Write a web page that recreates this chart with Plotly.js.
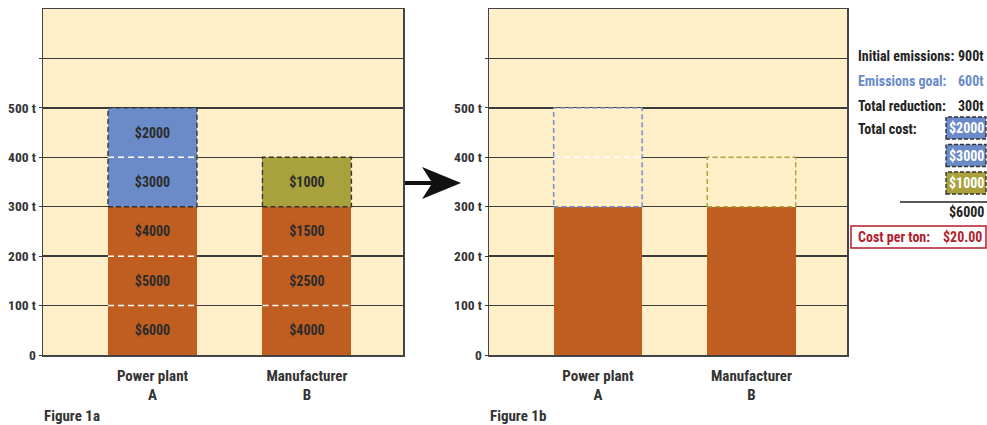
<!DOCTYPE html>
<html>
<head>
<meta charset="utf-8">
<script src="https://cdn.plot.ly/plotly-3.0.1.min.js"></script>
<style>html,body{margin:0;padding:0;background:#fff;}#chart{width:987px;height:425px;}</style>
</head>
<body>
<div id="chart"></div>
<script>
// ---------- DATA ----------
const categories = ['Power plant<br>A', 'Manufacturer<br>B'];
const initialEmissions = [500, 400];          // tonnes
const targetEmissions = [300, 300];           // tonnes after reduction
const segmentSize = 100;                      // tonnes per cost block
const costsA = [6000, 5000, 4000, 3000, 2000]; // cost of each 100 t block, bottom to top
const costsB = [4000, 2500, 1500, 1000];
const yTickVals = [0, 100, 200, 300, 400, 500, 600];
const yTickText = ['0', '100 t', '200 t', '300 t', '400 t', '500 t', ''];
const panelLabels = ['Figure 1a', 'Figure 1b'];

// ---------- STYLE ----------
const FONT = '"Roboto Condensed", "Open Sans Condensed", sans-serif';
const CREAM = '#FEEFC9', ORANGE = '#C05E22', BLUE = '#6A8BC7', OLIVE = '#A8A13C';
const DARK = '#2b2b2b', GRID = '#3a3a3a', RED = '#B01E2E';
const reducedColors = [BLUE, OLIVE];
const BW = 0.576;
const W = 987, H = 425;
const px = x => x / W, py = y => 1 - y / H;

const costs = [costsA, costsB];
const nLevels = Math.max(costsA.length, costsB.length);
const traces = [];

// Figure 1a: stacked cost blocks
for (let k = 0; k < nLevels; k++) {
  const y = [], text = [], colors = [];
  for (let i = 0; i < categories.length; i++) {
    const c = costs[i][k];
    y.push(c !== undefined ? segmentSize : 0);
    text.push(c !== undefined ? '$' + c : '');
    colors.push(k * segmentSize < targetEmissions[i] ? ORANGE : reducedColors[i]);
  }
  traces.push({
    type: 'bar', x: [0, 1], y: y, text: text, width: BW,
    xaxis: 'x', yaxis: 'y',
    marker: {color: colors, line: {width: 0}},
    textposition: 'inside', insidetextanchor: 'middle', textangle: 0,
    constraintext: 'none',
    textfont: {family: FONT, size: 14, color: DARK, weight: 'bold'},
    hoverinfo: 'skip'
  });
}

// Figure 1b: remaining emissions + empty reduced blocks
traces.push({
  type: 'bar', x: [0, 1], y: targetEmissions, width: BW, xaxis: 'x2', yaxis: 'y2',
  marker: {color: ORANGE, line: {width: 0}}, hoverinfo: 'skip'
});
traces.push({
  type: 'bar', x: [0, 1], y: initialEmissions.map((v, i) => v - targetEmissions[i]),
  width: BW, xaxis: 'x2', yaxis: 'y2',
  marker: {color: CREAM, line: {width: 0}}, hoverinfo: 'skip'
});

// dashed separators and outlines built from the data
function separators(axisX, axisY, onlyReduced) {
  const xs = [], ys = [];
  for (let i = 0; i < categories.length; i++) {
    for (let b = segmentSize; b < initialEmissions[i]; b += segmentSize) {
      if (b === targetEmissions[i]) continue;
      if (onlyReduced && b < targetEmissions[i]) continue;
      xs.push(i - BW / 2, i + BW / 2, null);
      ys.push(b, b, null);
    }
  }
  return {type: 'scatter', mode: 'lines', x: xs, y: ys, xaxis: axisX, yaxis: axisY,
    line: {color: '#ffffff', width: 1.5, dash: '6px,4px'},
    hoverinfo: 'skip', connectgaps: false};
}
traces.push(separators('x', 'y', false));
traces.push(separators('x2', 'y2', true));

for (let i = 0; i < categories.length; i++) {
  const bx = [i - BW / 2, i + BW / 2, i + BW / 2, i - BW / 2, i - BW / 2];
  const by = [targetEmissions[i], targetEmissions[i], initialEmissions[i], initialEmissions[i], targetEmissions[i]];
  traces.push({type: 'scatter', mode: 'lines', x: bx, y: by, xaxis: 'x', yaxis: 'y',
    line: {color: '#333333', width: 1.4, dash: '5px,3px'}, hoverinfo: 'skip'});
  traces.push({type: 'scatter', mode: 'lines', x: bx, y: by, xaxis: 'x2', yaxis: 'y2',
    line: {color: reducedColors[i], width: 1.4, dash: '5px,3px'}, hoverinfo: 'skip'});
}

// ---------- AXES ----------
const tickFont = {family: FONT, size: 13.5, color: '#333333', weight: 'bold'};
function xAxis(domain, anchor) {
  return {domain: domain, anchor: anchor, range: [-0.709, 1.622], tickvals: [0, 1], ticktext: categories,
    showgrid: false, zeroline: false, showline: true, mirror: true, linecolor: '#444444', linewidth: 1.5,
    ticks: '', tickfont: {family: FONT, size: 15, color: '#333333', weight: 'bold'},
    ticklabelstandoff: 6, fixedrange: true};
}
function yAxis(anchor) {
  return {domain: [py(355), py(9)], anchor: anchor, range: [0, 700], tickvals: yTickVals, ticktext: yTickText,
    showgrid: true, gridcolor: GRID, gridwidth: 1.3, zeroline: false, showline: true, mirror: true,
    linecolor: '#444444', linewidth: 1.5, ticks: 'outside', ticklen: 3, tickcolor: GRID,
    tickfont: tickFont, fixedrange: true};
}

// ---------- SUMMARY PANEL ----------
const totalInitial = initialEmissions.reduce((a, b) => a + b, 0);
const totalGoal = targetEmissions.reduce((a, b) => a + b, 0);
const totalReduction = totalInitial - totalGoal;
const reducedCosts = [];
const reducedCostColors = [];
for (let i = 0; i < categories.length; i++) {
  const list = [];
  costs[i].forEach((c, k) => { if (k * segmentSize >= targetEmissions[i]) list.push(c); });
  list.reverse().forEach(c => { reducedCosts.push(c); reducedCostColors.push(reducedColors[i]); });
}
const totalCost = reducedCosts.reduce((a, b) => a + b, 0);
const costPerTon = totalCost / totalReduction;

const sFont = (color, size) => ({family: FONT, size: size || 14, color: color, weight: 'bold'});
const annotations = [];
const shapes = [];
function label(x, y, text, color, anchor) {
  annotations.push({xref: 'paper', yref: 'paper', x: px(x), y: py(y), text: text, showarrow: false,
    xanchor: anchor, yanchor: 'middle', font: sFont(color)});
}
label(856, 56, 'Initial emissions:', '#222222', 'left');
label(986, 56, totalInitial + 't', '#222222', 'right');
label(856, 81, 'Emissions goal:', BLUE, 'left');
label(986, 81, totalGoal + 't', BLUE, 'right');
label(856, 106, 'Total reduction:', '#222222', 'left');
label(986, 106, totalReduction + 't', '#222222', 'right');
label(856, 129, 'Total cost:', '#222222', 'left');
reducedCosts.forEach((c, j) => {
  const top = 117 + j * 27.5, bot = top + 22;
  shapes.push({type: 'rect', xref: 'paper', yref: 'paper', x0: px(946), x1: px(986), y0: py(bot), y1: py(top),
    fillcolor: reducedCostColors[j], line: {color: '#333333', width: 1.4, dash: '4px,2px'}, layer: 'above'});
  annotations.push({xref: 'paper', yref: 'paper', x: px(966), y: py((top + bot) / 2), text: '$' + c,
    showarrow: false, xanchor: 'center', yanchor: 'middle', font: sFont('#ffffff', 14)});
});
shapes.push({type: 'line', xref: 'paper', yref: 'paper', x0: px(900), x1: px(987), y0: py(202), y1: py(202),
  line: {color: '#222222', width: 1.3}});
label(986, 212, '$' + totalCost, '#222222', 'right');
shapes.push({type: 'rect', xref: 'paper', yref: 'paper', x0: px(851), x1: px(986), y0: py(248), y1: py(226),
  fillcolor: 'rgba(0,0,0,0)', line: {color: RED, width: 1.5}});
label(856, 237, 'Cost per ton:', RED, 'left');
label(984, 237, '$' + costPerTon.toFixed(2), RED, 'right');

// figure labels
annotations.push({xref: 'paper', yref: 'paper', x: px(42), y: py(416), text: panelLabels[0], showarrow: false,
  xanchor: 'left', yanchor: 'middle', font: sFont('#333333', 15)});
annotations.push({xref: 'paper', yref: 'paper', x: px(488), y: py(416), text: panelLabels[1], showarrow: false,
  xanchor: 'left', yanchor: 'middle', font: sFont('#333333', 15)});

// arrow between panels (decoration)
const ax = [405, 431, 422, 461, 422, 431, 405];
const ay = [181, 181, 167, 183, 199, 185, 185];
let path = 'M' + ax.map((x, j) => px(x) + ',' + py(ay[j])).join(' L') + ' Z';
shapes.push({type: 'path', xref: 'paper', yref: 'paper', path: path, fillcolor: '#111111', line: {width: 0}});

const layout = {
  width: W, height: H, margin: {l: 0, r: 0, t: 0, b: 0},
  paper_bgcolor: '#ffffff', plot_bgcolor: CREAM, showlegend: false, barmode: 'stack', bargap: 0,
  xaxis: xAxis([px(43), px(403)], 'y'), yaxis: yAxis('x'),
  xaxis2: xAxis([px(489), px(847)], 'y2'), yaxis2: yAxis('x2'),
  annotations: annotations, shapes: shapes
};
Plotly.newPlot('chart', traces, layout, {displayModeBar: false, staticPlot: true});
</script>
</body>
</html>
